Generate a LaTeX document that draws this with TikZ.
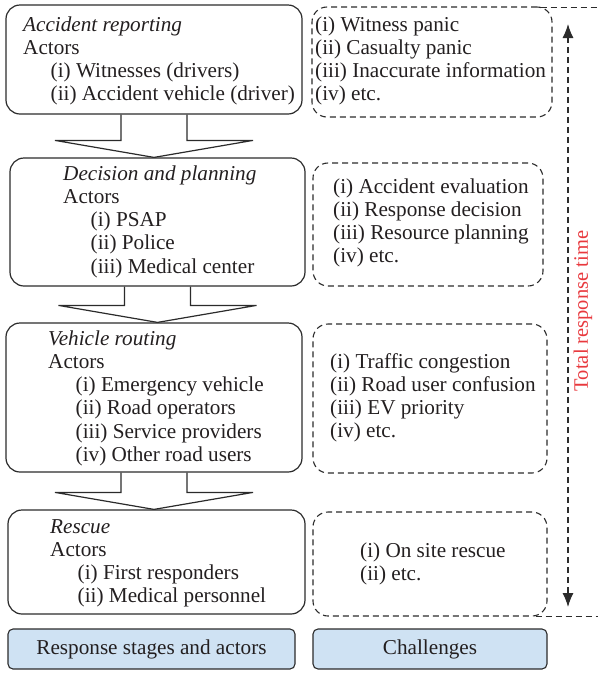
\documentclass[tikz,border=0pt]{standalone}
\usepackage{fontspec}
\setmainfont{Liberation Serif}
\usetikzlibrary{arrows.meta,calc}
\definecolor{ln}{HTML}{2B2B2B}
\definecolor{txtc}{HTML}{231F20}
\definecolor{bluefill}{HTML}{CFE2F3}
\definecolor{redtxt}{HTML}{E8383D}
\newcommand{\blkt}[1]{\begin{tabular}[t]{@{}l@{}}#1\end{tabular}}
\newcommand{\ind}{\hspace*{27.5pt}}
\begin{document}
\begin{tikzpicture}[x=1pt,y=-1pt,
  font=\fontsize{21.2}{23.3}\selectfont, text=txtc,
  stagebox/.style={draw=ln, line width=1.2pt, rounded corners=14pt, inner sep=0pt},
  chalbox/.style={draw=ln, line width=1.1pt, dash pattern=on 6pt off 4pt, rounded corners=15pt, inner sep=0pt},
  bluebox/.style={draw=ln, line width=1.1pt, fill=bluefill, rounded corners=5pt, inner sep=0pt},
  txt/.style={anchor=base west, inner sep=0pt},
  blkarrow/.style={draw=ln, line width=1.2pt, line join=miter},
  dsh/.style={draw=ln, line width=1.1pt, dash pattern=on 6pt off 4pt}
]
\useasboundingbox (0,0) rectangle (598,673);

% stage boxes
\node[stagebox, minimum width=296pt, minimum height=109pt] (b1) at (154,59.5) {};
\node[stagebox, minimum width=295pt, minimum height=128pt] (b2) at (157.5,222) {};
\node[stagebox, minimum width=296pt, minimum height=149pt] (b3) at (154,397.5) {};
\node[stagebox, minimum width=297pt, minimum height=104pt] (b4) at (156.5,562) {};

% challenge boxes
\node[chalbox, minimum width=240pt, minimum height=110pt] (d1) at (432,62) {};
\node[chalbox, minimum width=230pt, minimum height=123pt] (d2) at (428,224.5) {};
\node[chalbox, minimum width=234pt, minimum height=149pt] (d3) at (430,398.5) {};
\node[chalbox, minimum width=234pt, minimum height=104pt] (d4) at (430,564) {};

% legend boxes
\node[bluebox, minimum width=287pt, minimum height=40pt] (l1) at (151.5,649) {Response stages and actors};
\node[bluebox, minimum width=234pt, minimum height=40pt] (l2) at (430,649) {Challenges};

% stage texts
\node[txt] (t1) at (23,31) {\blkt{\textit{Accident reporting}\\Actors\\\ind(i) Witnesses (drivers)\\\ind(ii) Accident vehicle (driver)}};
\node[txt] (t2) at (63,180) {\blkt{\textit{Decision and planning}\\Actors\\\ind(i) PSAP\\\ind(ii) Police\\\ind(iii) Medical center}};
\node[txt] (t3) at (48,345) {\blkt{\textit{Vehicle routing}\\Actors\\\ind(i) Emergency vehicle\\\ind(ii) Road operators\\\ind(iii) Service providers\\\ind(iv) Other road users}};
\node[txt] (t4) at (50,533) {\blkt{\textit{Rescue}\\Actors\\\ind(i) First responders\\\ind(ii) Medical personnel}};

% challenge texts
\node[txt] (c1) at (315,31) {\blkt{(i) Witness panic\\(ii) Casualty panic\\(iii) Inaccurate information\\(iv) etc.}};
\node[txt] (c2) at (333,193) {\blkt{(i) Accident evaluation\\(ii) Response decision\\(iii) Resource planning\\(iv) etc.}};
\node[txt] (c3) at (330,368) {\blkt{(i) Traffic congestion\\(ii) Road user confusion\\(iii) EV priority\\(iv) etc.}};
\node[txt] (c4) at (360,557) {\blkt{(i) On site rescue\\(ii) etc.}};

% block arrows between stages
\draw[blkarrow] let \p1=(b1.south), \p2=(b2.north) in
  (\x1-33pt,\y1) -- (\x1-33pt,\y2+17pt) -- (\x1-99pt,\y2+17pt) -- (\x1,\y2)
  -- (\x1+99pt,\y2+17pt) -- (\x1+33pt,\y2+17pt) -- (\x1+33pt,\y1);
\draw[blkarrow] let \p1=(b2.south), \p2=(b3.north) in
  (\x1-33pt,\y1) -- (\x1-33pt,\y2+17pt) -- (\x1-99pt,\y2+17pt) -- (\x1,\y2)
  -- (\x1+99pt,\y2+17pt) -- (\x1+33pt,\y2+17pt) -- (\x1+33pt,\y1);
\draw[blkarrow] let \p1=(b3.south), \p2=(b4.north) in
  (\x1-33pt,\y1) -- (\x1-33pt,\y2+17pt) -- (\x1-99pt,\y2+17pt) -- (\x1,\y2)
  -- (\x1+99pt,\y2+17pt) -- (\x1+33pt,\y2+17pt) -- (\x1+33pt,\y1);

% total response time
\coordinate (redge) at (598,0);
\draw[dsh] ([xshift=-12pt,yshift=-1pt]d1.north east) -- ([yshift=-1pt]d1.north east -| redge);
\draw[dsh] ([xshift=-12pt]d4.south east) -- (d4.south east -| redge);
\coordinate (ttop) at (568,24);
\coordinate (tbot) at (568,607);
\draw[dsh, {Latex[length=14pt,width=11pt]}-{Latex[length=14pt,width=11pt]}] (ttop) -- (tbot);
\node[text=redtxt, rotate=90, inner sep=0pt, font=\fontsize{20.5}{23}\selectfont] (lbl) at (583,311) {Total response time};
\end{tikzpicture}
\end{document}
